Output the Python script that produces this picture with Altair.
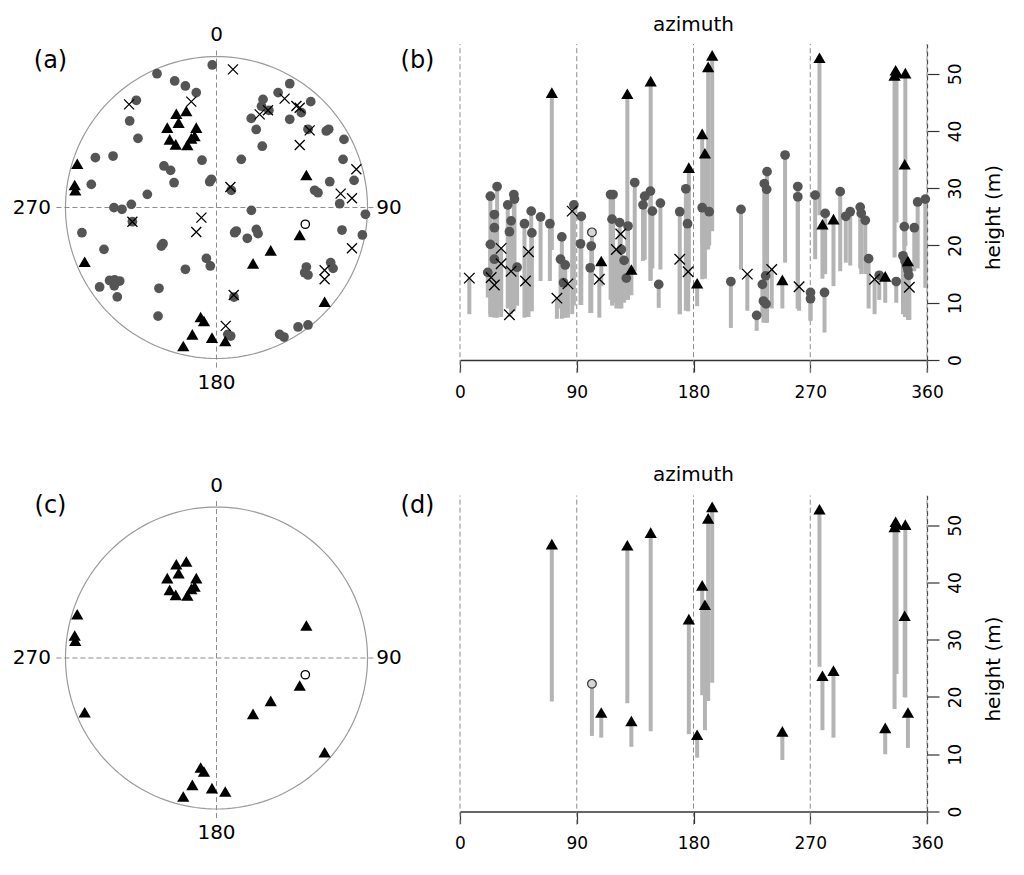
import altair as alt
import pandas as pd

FONT = "DejaVu Sans"

# ---------------- panels (b)/(d): azimuth (deg), top and bottom height (m) ----------------
circ_az = [21.4, 23.4, 28.6, 23.4, 26.5, 26.5, 26.5, 36.8, 41.5, 42.0, 39.4, 38.1, 44.0, 49.7,
           54.9, 55.4, 62.1, 69.3, 78.5, 77.5, 81.1, 79.8, 87.8, 93.5, 92.9, 101.2, 100.4,
           116.1, 118.0, 117.2, 123.1, 129.5, 124.4, 126.5, 128.2, 134.7, 141.1, 142.4, 146.8,
           148.3, 154.5, 153.2, 169.4, 174.1, 175.4, 186.7, 192.1, 208.8, 216.6, 236.7, 234.6,
           236.4, 235.6, 233.1, 233.9, 235.9, 228.7, 250.6, 260.4, 260.4, 270.2, 270.2, 273.8,
           281.5, 281.0, 293.1, 297.4, 300.8, 308.5, 309.3, 312.4, 315.0, 323.2, 336.3, 342.5,
           350.2, 341.5, 343.0, 344.5, 345.3, 345.9, 352.8, 358.7]
circ_top = [15.3, 28.6, 30.3, 20.2, 25.4, 23.1, 17.6, 27.1, 28.9, 28.1, 24.3, 22.4, 16.2, 23.8,
            26.0, 22.2, 25.0, 23.8, 21.5, 17.6, 16.6, 13.5, 27.1, 25.1, 20.3, 19.9, 16.1,
            28.9, 28.9, 24.6, 24.0, 23.4, 19.3, 17.4, 14.3, 31.0, 27.1, 28.6, 29.5,
            26.0, 27.4, 13.2, 25.9, 29.9, 23.8, 26.6, 25.9, 13.7, 26.3, 32.9, 30.8,
            29.8, 14.7, 13.2, 10.3, 9.8, 7.8, 35.8, 30.3, 28.5, 11.8, 10.7, 28.8,
            25.6, 11.8, 29.4, 25.1, 25.9, 26.7, 25.6, 24.4, 17.7, 14.8, 13.7, 23.3,
            23.1, 18.2, 17.3, 16.4, 15.7, 14.8, 27.6, 28.1]
circ_bot = [10.9, 7.5, 7.4, 8.0, 7.4, 9.0, 8.5, 9.0, 8.5, 9.0, 8.0, 10.5, 9.5, 7.4,
            15.5, 8.5, 13.8, 13.8, 7.2, 9.0, 7.4, 7.4, 9.5, 9.6, 9.6, 8.2, 8.2,
            10.5, 10.0, 9.5, 9.0, 10.5, 9.0, 10.0, 11.0, 15.5, 17.3, 17.5, 13.8,
            16.0, 15.8, 9.1, 8.0, 8.6, 10.0, 14.1, 20.0, 5.6, 15.8, 6.5, 7.0,
            7.5, 8.0, 8.0, 6.5, 6.5, 5.1, 17.0, 9.0, 9.0, 7.0, 6.8, 17.6,
            15.0, 4.8, 15.5, 17.0, 16.5, 16.0, 15.0, 15.0, 9.0, 10.5, 10.0, 9.0,
            15.5, 8.0, 7.5, 7.5, 7.0, 7.0, 16.0, 12.6]

x_az = [7.2, 31.7, 31.7, 24.0, 26.5, 39.4, 38.1, 52.8, 50.5, 74.7, 83.2, 86.5, 107.4, 123.9,
        120.5, 169.4, 175.9, 221.5, 240.3, 261.4, 319.6, 346.4]
x_top = [14.3, 19.5, 16.8, 14.4, 13.1, 15.5, 7.9, 18.9, 13.8, 10.8, 13.3, 26.0, 14.1, 22.0,
         19.3, 17.6, 15.4, 15.0, 15.8, 12.8, 14.1, 12.7]
x_bot = [8.0, 8.5, 7.5, 7.5, 7.5, 9.0, 7.5, 7.5, 7.5, 7.2, 7.4, 8.0, 7.4, 10.0,
         9.0, 8.0, 8.5, 8.6, 9.0, 8.6, 8.0, 7.0]

tri_az = [70.8, 108.9, 129.0, 132.1, 147.0, 176.4, 182.8, 186.7, 188.8, 191.3, 194.4, 248.5,
          277.1, 279.4, 287.9, 327.8, 335.0, 335.8, 336.5, 342.8, 343.3, 345.3]
tri_top = [46.7, 17.3, 46.5, 15.8, 48.7, 33.6, 13.4, 39.5, 36.1, 51.2, 53.2, 14.0,
           52.8, 23.7, 24.6, 14.6, 49.7, 50.6, 50.2, 34.2, 50.1, 17.3]
tri_bot = [19.2, 12.9, 18.9, 11.3, 14.0, 13.5, 9.4, 20.3, 14.2, 19.3, 22.5, 9.0,
           25.3, 14.2, 12.9, 10.0, 17.9, 24.5, 24.0, 20.0, 19.9, 11.1]

open_az = [101.7]
open_top = [22.3]
open_bot = [13.2]

# ---------------- panels (a)/(c): east / north position in the circular projection ----------------
circ_e = [-0.028, -0.394, -0.277, -0.206, -0.134, -0.531, -0.575, -0.520, 0.485, 0.408, 0.308,
          0.298, 0.347, 0.230, 0.263, 0.303, 0.624, 0.562, 0.485, 0.606, 0.727, 0.743, 0.844,
          0.838, 0.164, 0.911, 0.750, 0.650, 0.672, 0.816, 0.986, 0.231, 0.098, -0.802, -0.685,
          -0.829, -0.348, -0.304, -0.281, -0.096, -0.034, -0.045, -0.458, -0.679, -0.626, -0.564,
          -0.557, -0.891, -0.745, -0.365, -0.354, -0.206, -0.067, -0.041, -0.708, -0.674, -0.641,
          -0.677, -0.774, -0.657, -0.381, -0.387, 0.116, 0.094, 0.075, 0.120, 0.131, 0.204,
          0.264, 0.275, 0.831, 0.966, 0.595, 0.584, 0.606, 0.756, 0.772, 0.540, 0.606, 0.418,
          0.447]
circ_n = [0.944, 0.886, 0.838, 0.805, 0.761, 0.710, 0.573, 0.458, 0.820, 0.761, 0.716,
          0.671, 0.643, 0.590, 0.517, 0.406, 0.701, 0.628, 0.584, 0.518, 0.507, 0.518, 0.451,
          0.319, 0.319, 0.180, 0.171, 0.114, 0.098, 0.025, -0.045, -0.019, 0.114, 0.330, 0.341,
          0.153, 0.275, 0.246, 0.164, 0.313, 0.187, 0.171, 0.087, -0.001, -0.012, 0.021,
          -0.094, -0.167, -0.277, -0.255, -0.240, -0.409, -0.337, -0.387, -0.483, -0.479, -0.487,
          -0.519, -0.526, -0.592, -0.535, -0.719, -0.593, -0.851, -0.840, -0.167, -0.156, -0.204,
          -0.145, -0.173, -0.149, -0.182, -0.394, -0.432, -0.447, -0.365, -0.403, -0.791, -0.778,
          -0.840, -0.858]

x_e = [0.109, -0.167, -0.579, 0.451, 0.286, 0.341, 0.529, 0.551, 0.617, 0.551, 0.926, 0.822,
       0.897, 0.092, -0.557, -0.100, -0.134, 0.114, 0.061, 0.897, 0.716, 0.716]
x_n = [0.915, 0.701, 0.683, 0.721, 0.617, 0.644, 0.672, 0.661, 0.511, 0.414, 0.253, 0.092,
       0.061, 0.136, -0.094, -0.067, -0.162, -0.579, -0.784, -0.270, -0.416, -0.475]

tri_e = [-0.266, -0.200, -0.251, -0.326, -0.134, -0.145, -0.167, -0.310, -0.270, -0.193,
         -0.922, -0.939, -0.935, -0.873, 0.595, 0.551, 0.359, 0.242, 0.716, -0.105, -0.083,
         -0.160, -0.220, -0.030, 0.058]
tri_n = [0.621, 0.639, 0.562, 0.529, 0.529, 0.474, 0.458, 0.451, 0.418, 0.414,
         0.290, 0.149, 0.114, -0.359, 0.215, -0.182, -0.284, -0.370, -0.624, -0.725, -0.752,
         -0.840, -0.917, -0.862, -0.884]

open_e = [0.588]
open_n = [-0.111]

compass_text = ["0", "90", "180", "270"]
compass_az = [0, 90, 180, 270]
compass_r = [1.142, 1.142, 1.16, 1.222]

grid_az = [0, 90, 180, 270, 360]
height_ticks = [0, 10, 20, 30, 40, 50]
grid_lo = -2.3
grid_hi = 55.19
cross_ext = 1.06

SEG = "#b4b4b4"
DOT = "#555555"
DASH = "#8c8c8c"
XSHAPE = "M-1,-1L1,1M-1,1L1,-1"


def polar_panel(show_all, tag, ydom, tag_y):
    xs = alt.Scale(domain=[-1.374, 1.374], nice=False, zero=False)
    ys = alt.Scale(domain=ydom, nice=False, zero=False)

    def X(f):
        return alt.X(f, type="quantitative", scale=xs, axis=None)

    def Y(f):
        return alt.Y(f, type="quantitative", scale=ys, axis=None)

    outline = alt.Chart(alt.sequence(0, 362, 2, as_="deg")).transform_calculate(
        ex="sin(datum.deg*PI/180)", ny="cos(datum.deg*PI/180)"
    ).mark_line(color="#9a9a9a", strokeWidth=1.2).encode(x=X("ex"), y=Y("ny"), order="deg:Q")

    cross_df = pd.DataFrame({"c": [0.0], "lo": [-cross_ext], "hi": [cross_ext]})
    vline = alt.Chart(cross_df).mark_rule(color=DASH, strokeDash=[5, 3], strokeWidth=1).encode(
        x=X("c"), y=Y("lo"), y2="hi")
    hline = alt.Chart(cross_df).mark_rule(color=DASH, strokeDash=[5, 3], strokeWidth=1).encode(
        y=Y("c"), x=X("lo"), x2="hi")

    comp_df = pd.DataFrame({"lab": compass_text, "az": compass_az, "r": compass_r})
    comp = alt.Chart(comp_df).transform_calculate(
        ex="datum.r*sin(datum.az*PI/180)", ny="datum.r*cos(datum.az*PI/180)"
    ).mark_text(fontSize=20, font=FONT, color="black", baseline="middle", align="center").encode(
        x=X("ex"), y=Y("ny"), text="lab:N")

    layers = [outline, vline, hline, comp]
    if show_all:
        cdf = pd.DataFrame({"e": circ_e, "n": circ_n})
        layers.append(alt.Chart(cdf).mark_point(shape="circle", filled=True, size=95, color=DOT,
                                                opacity=1).encode(x=X("e"), y=Y("n")))
        xdf = pd.DataFrame({"e": x_e, "n": x_n})
        layers.append(alt.Chart(xdf).mark_point(shape=XSHAPE, filled=False, size=100, color="black",
                                                strokeWidth=1.3, opacity=1).encode(x=X("e"), y=Y("n")))
    tdf = pd.DataFrame({"e": tri_e, "n": tri_n})
    layers.append(alt.Chart(tdf).mark_point(shape="triangle-up", filled=True, size=150, color="black",
                                            opacity=1).encode(x=X("e"), y=Y("n")))
    odf = pd.DataFrame({"e": open_e, "n": open_n})
    layers.append(alt.Chart(odf).mark_point(shape="circle", filled=True, fill="white", stroke="black",
                                            strokeWidth=1.3, size=70, opacity=1).encode(x=X("e"), y=Y("n")))
    tag_df = pd.DataFrame({"t": [tag]})
    layers.append(alt.Chart(tag_df).mark_text(fontSize=24, font=FONT, color="black").encode(
        text="t:N", x=alt.value(41.5), y=alt.value(tag_y)))
    return alt.layer(*layers).properties(width=415, height=316)


def height_panel(show_all, tag, tag_y):
    xs = alt.Scale(domain=[0, 360], nice=False, zero=False)
    ys = alt.Scale(domain=[0, grid_hi], nice=False, zero=False)
    xaxis = alt.Axis(values=grid_az, title=None, grid=False, tickSize=12, tickColor="#333",
                     tickWidth=1.2, domainColor="#333", domainWidth=1.5, labelFontSize=17,
                     labelFont=FONT, labelColor="black", labelPadding=12, labelFlush=False)
    yaxis = alt.Axis(orient="right", values=height_ticks, title="height (m)", grid=False,
                     tickSize=12, tickColor="#333", tickWidth=1.2, domainColor="#444",
                     domainDash=[5, 3], domainWidth=1.2, labelFontSize=17, labelFont=FONT,
                     labelColor="black", labelAngle=270, labelAlign="center", labelBaseline="top",
                     labelPadding=8, titleFont=FONT, titleFontSize=20, titleFontWeight="normal",
                     titleColor="black", titleAngle=270, titleBaseline="top", titleY=173,
                     titlePadding=20)

    def X(f):
        return alt.X(f, type="quantitative", scale=xs, axis=xaxis)

    def Y(f):
        return alt.Y(f, type="quantitative", scale=ys, axis=yaxis)

    gdf = pd.DataFrame({"az": grid_az, "lo": [grid_lo] * len(grid_az), "hi": [grid_hi] * len(grid_az)})
    grid = alt.Chart(gdf).mark_rule(color=DASH, strokeDash=[5, 3], strokeWidth=1).encode(
        x=X("az"), y=Y("lo"), y2="hi")

    tri_df = pd.DataFrame({"az": tri_az, "top": tri_top, "bot": tri_bot})
    open_df = pd.DataFrame({"az": open_az, "top": open_top, "bot": open_bot})
    circ_df = pd.DataFrame({"az": circ_az, "top": circ_top, "bot": circ_bot})
    x_df = pd.DataFrame({"az": x_az, "top": x_top, "bot": x_bot})
    if show_all:
        seg_df = pd.concat([circ_df, x_df, tri_df, open_df], ignore_index=True)
    else:
        seg_df = pd.concat([tri_df, open_df], ignore_index=True)
    segs = alt.Chart(seg_df).mark_rule(color=SEG, strokeWidth=4).encode(
        x=X("az"), y=Y("bot"), y2="top")

    layers = [grid, segs]
    if show_all:
        layers.append(alt.Chart(circ_df).mark_point(shape="circle", filled=True, size=95, color=DOT,
                                                    opacity=1).encode(x=X("az"), y=Y("top")))
        layers.append(alt.Chart(x_df).mark_point(shape=XSHAPE, filled=False, size=110, color="black",
                                                 strokeWidth=1.3, opacity=1).encode(x=X("az"), y=Y("top")))
    layers.append(alt.Chart(tri_df).mark_point(shape="triangle-up", filled=True, size=150, color="black",
                                               opacity=1).encode(x=X("az"), y=Y("top")))
    layers.append(alt.Chart(open_df).mark_point(shape="circle", filled=True, fill="#d6d6d6", stroke="#333",
                                                strokeWidth=1.2, size=75, opacity=1).encode(
        x=X("az"), y=Y("top")))
    tag_df = pd.DataFrame({"t": [tag]})
    layers.append(alt.Chart(tag_df).mark_text(fontSize=24, font=FONT, color="black").encode(
        text="t:N", x=alt.value(-42.5), y=alt.value(tag_y)))
    return alt.layer(*layers).properties(
        width=467, height=316,
        title=alt.TitleParams("azimuth", font=FONT, fontSize=20, fontWeight="normal", color="black",
                              offset=9, anchor="middle"))


chart = alt.concat(
    polar_panel(True, "(a)", [-1.0099, 1.0828], 17),
    height_panel(True, "(b)", 17),
    polar_panel(False, "(c)", [-1.0166, 1.076], 10.5),
    height_panel(False, "(d)", 10.5),
    columns=2, spacing={"row": 135.5, "column": 36}, bounds="flush", align="each",
).properties(
    padding={"left": 0, "top": 6, "right": 0, "bottom": 0}
).configure_view(stroke="transparent")

chart.save("out.html", embed_options={"renderer": "svg", "actions": False})
